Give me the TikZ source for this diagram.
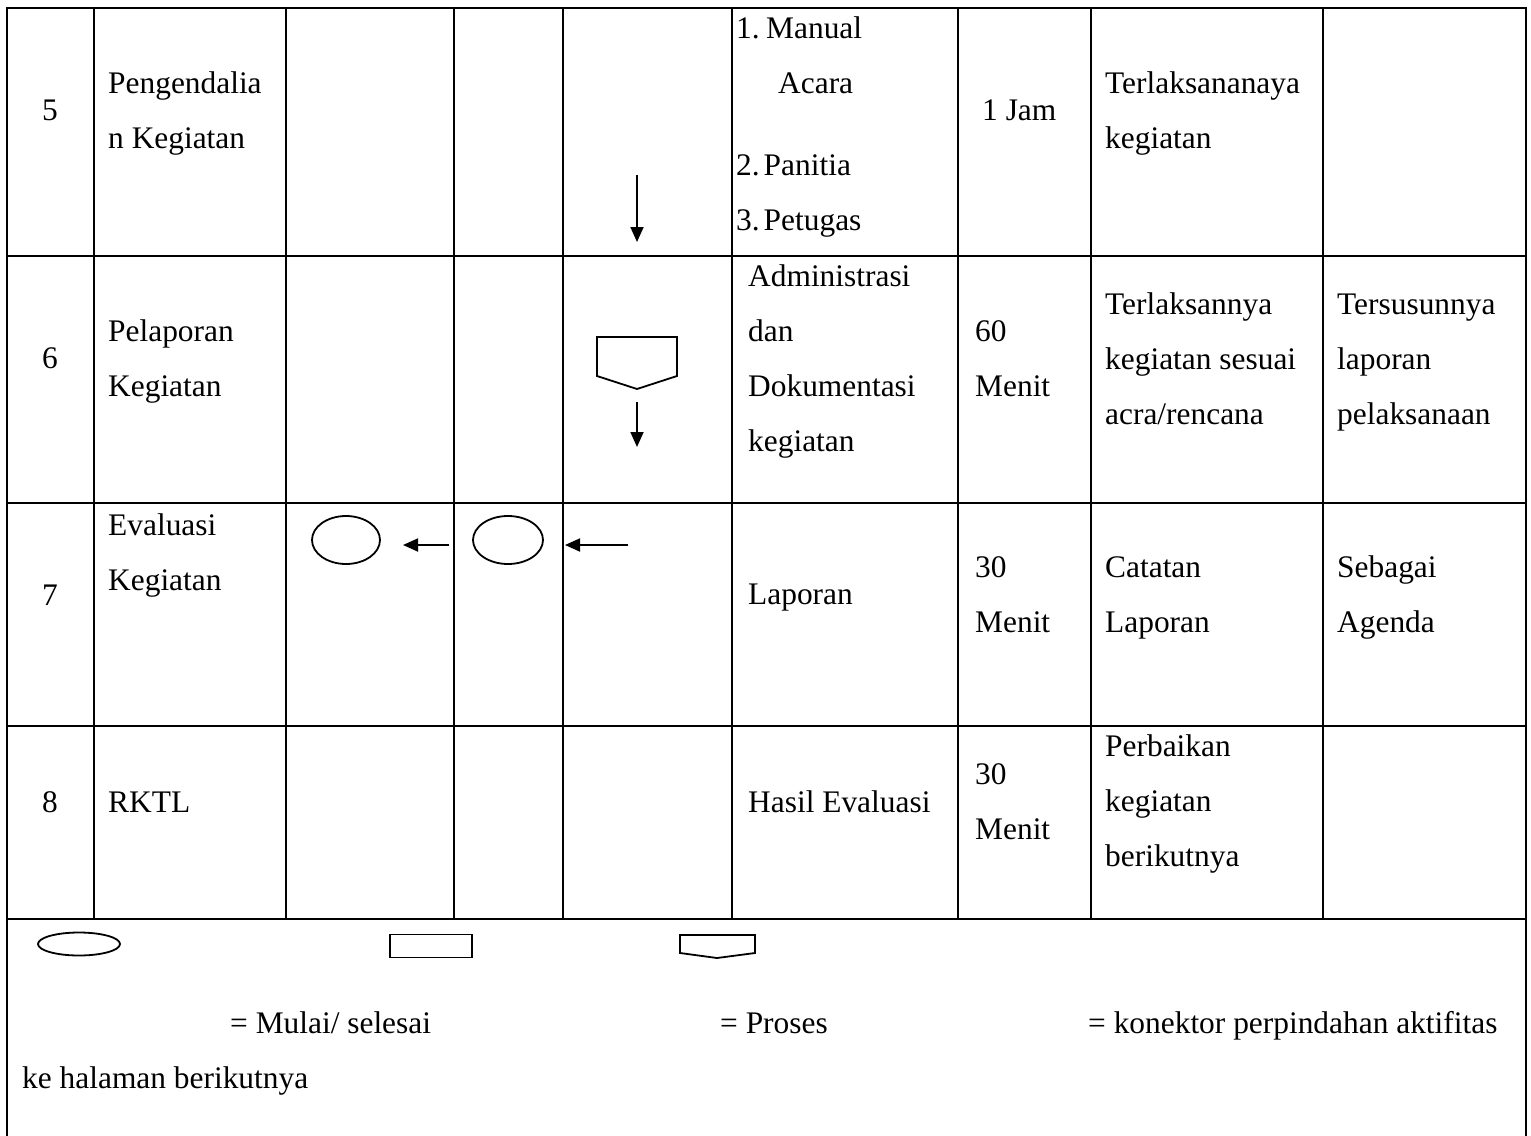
\documentclass[tikz,border=0pt]{standalone}
\usepackage{fontspec}
\setmainfont{Liberation Serif}
\usetikzlibrary{arrows.meta,shapes.geometric}

\begin{document}
\begin{tikzpicture}[x=1pt, y=-1pt,
    grid/.style={line width=2.6pt, line cap=rect},
    txt/.style={anchor=base west, inner sep=0pt, align=left, font=\fontsize{31.4}{55}\selectfont},
    flow/.style={draw, line width=1.8pt},
    arr/.style={line width=1.8pt, -{Triangle[length=15pt,width=13pt]}}]
    \useasboundingbox (0,0) rectangle (1531,1135);
    % table rules
    \foreach \y in {8,256,503,726,919}
        \draw[grid] (7,\y) -- (1526,\y);
    \foreach \x in {94,286,454,563,732,958,1091,1323}
        \draw[grid] (\x,8) -- (\x,919);
    \draw[grid] (7,8) -- (7,1135);
    \draw[grid] (1526,8) -- (1526,1135);

    % row 5 (base = last line)
    \node[txt] (no5) at (42,120) {5};
    \node[txt] (keg5) at (108,148) {Pengendalia\\n Kegiatan};
    \node[txt] (sat5a) at (736,38) {1.};
    \node[txt] (sat5b) at (766,38) {Manual};
    \node[txt] (sat5c) at (778,93) {Acara};
    \node[txt] (sat5d) at (736,175) {2.\hspace{4pt}Panitia};
    \node[txt] (sat5e) at (736,230) {3.\hspace{4pt}Petugas};
    \node[txt] (wkt5) at (982,120) {1 Jam};
    \node[txt] (out5) at (1105,148) {Terlaksananaya\\kegiatan};
    \coordinate (a5top) at (637,175);
    \coordinate (a5bot) at (637,242);
    \draw[arr] (a5top) -- (a5bot);

    % row 6
    \node[txt] (no6) at (42,368) {6};
    \node[txt] (keg6) at (108,396) {Pelaporan\\Kegiatan};
    \node[txt] (sat6) at (748,451) {Administrasi\\dan\\Dokumentasi\\kegiatan};
    \node[txt] (wkt6) at (975,396) {60\\Menit};
    \node[txt] (out6) at (1105,424) {Terlaksannya\\kegiatan sesuai\\acra/rencana};
    \node[txt] (ket6) at (1337,424) {Tersusunnya\\laporan\\pelaksanaan};
    \draw[flow] (597,337) -- (677,337) -- (677,376) -- (637,389) coordinate (kon6) -- (597,376) -- cycle;
    \coordinate (a6top) at (637,402);
    \coordinate (a6bot) at (637,447);
    \draw[arr] (a6top) -- (a6bot);

    % row 7
    \node[txt] (no7) at (42,605) {7};
    \node[txt] (keg7) at (108,590) {Evaluasi\\Kegiatan};
    \node[flow, ellipse, inner sep=0pt, minimum width=68pt, minimum height=48pt] (selesai7) at (346,540) {};
    \node[flow, ellipse, inner sep=0pt, minimum width=70pt, minimum height=48pt] (mulai7) at (508,540) {};
    \coordinate (a7a) at (449,545);
    \coordinate (a7b) at (628,545);
    \draw[arr] (a7a) -- ++(-46,0);
    \draw[arr] (a7b) -- (565,545);
    \node[txt] (sat7) at (748,604) {Laporan};
    \node[txt] (wkt7) at (975,632) {30\\Menit};
    \node[txt] (out7) at (1105,632) {Catatan\\Laporan};
    \node[txt] (ket7) at (1337,632) {Sebagai\\Agenda};

    % row 8
    \node[txt] (no8) at (42,812) {8};
    \node[txt] (keg8) at (108,812) {RKTL};
    \node[txt] (sat8) at (748,812) {Hasil Evaluasi};
    \node[txt] (wkt8) at (975,839) {30\\Menit};
    \node[txt] (out8) at (1105,866) {Perbaikan\\kegiatan\\berikutnya};

    % legend
    \node[flow, ellipse, inner sep=0pt, minimum width=82pt, minimum height=23pt] (lgmulai) at (79,944) {};
    \node[flow, rectangle, inner sep=0pt, minimum width=82pt, minimum height=23pt] (lgproses) at (431,946) {};
    \draw[flow] (680,935) -- (755,935) -- (755,953) -- (717,958) coordinate (lgkon) -- (680,953) -- cycle;
    \node[txt] (lgt1) at (230,1033) {= Mulai/ selesai};
    \node[txt] (lgt2) at (720,1033) {= Proses};
    \node[txt] (lgt3) at (1088,1033) {= konektor perpindahan aktifitas};
    \node[txt] (lgt4) at (22,1088) {ke halaman berikutnya};
\end{tikzpicture}
\end{document}
